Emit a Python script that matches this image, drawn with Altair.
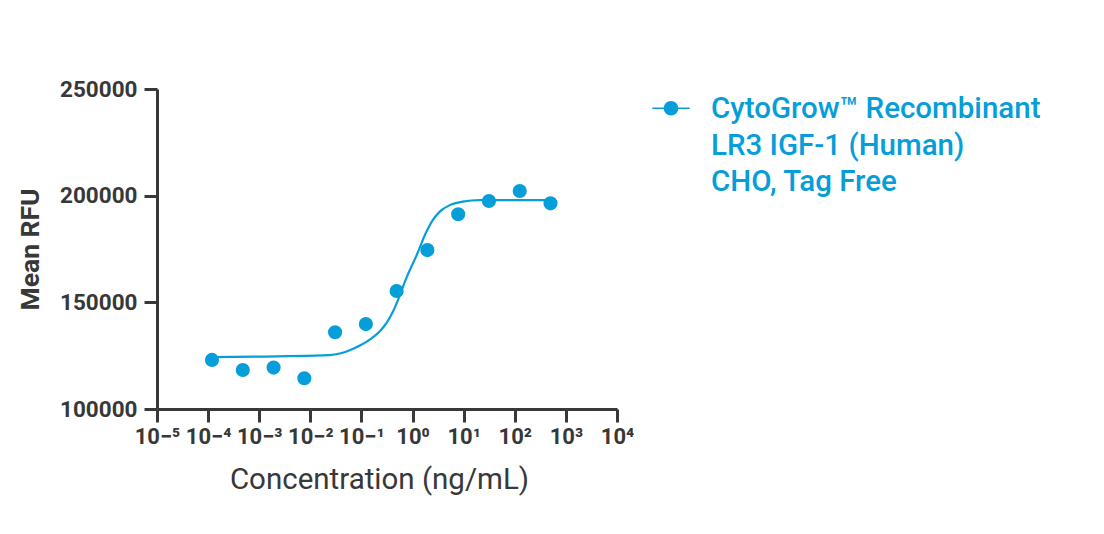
import altair as alt
import pandas as pd

BLUE = "#069ed9"
DARK = "#383838"

# Measured points (ng/mL, Mean RFU)
conc = [0.000119, 0.000477, 0.00191, 0.00763, 0.0305, 0.122, 0.488, 1.95, 7.81, 31.25, 125, 500]
rfu = [123000, 118300, 119400, 114400, 136000, 139800, 155300, 174500, 191300, 197500, 202200, 196400]

# Fitted curve
curve_conc = [0.000119, 0.0241, 0.0378, 0.0593, 0.0931, 0.1459, 0.2291, 0.3097, 0.4169,
              0.5217, 0.762, 1.194, 1.875, 2.523, 3.412, 5.346, 9.594, 20.65, 500]
curve_rfu = [124360, 125300, 126000, 127550, 129750, 132560, 136450, 140380, 145820,
             151300, 161610, 171920, 183160, 188780, 192530, 195570, 197210, 197920, 197920]

x_ticks = [1e-5, 1e-4, 1e-3, 1e-2, 1e-1, 1, 10, 100, 1000, 10000]
y_ticks = [100000, 150000, 200000, 250000]
series = "CytoGrow"
legend_lines = ["CytoGrow™ Recombinant", "LR3 IGF-1 (Human)", "CHO, Tag Free"]

pts = pd.DataFrame({"conc": conc, "rfu": rfu, "series": series})
crv = pd.DataFrame({"conc": curve_conc, "rfu": curve_rfu})

sup = ("'10' + replace(replace(replace(replace(replace(replace(replace("
       "format(round(log(datum.value)/LN10),'d'),'-','⁻'),'0','⁰'),'1','¹'),"
       "'2','²'),'3','³'),'4','⁴'),'5','⁵')")

xscale = alt.Scale(type="log", domain=[1e-5, 1e4], nice=False)
yscale = alt.Scale(domain=[100000, 250000], nice=False, zero=False)

xaxis = alt.Axis(values=x_ticks, labelExpr=sup, title="Concentration (ng/mL)",
                 labelFont="Roboto, Noto Sans", labelFontSize=22, labelFontWeight="bold",
                 labelColor=DARK, labelPadding=4, tickSize=13, tickWidth=3, tickColor=DARK,
                 domainWidth=3, domainColor=DARK, grid=False,
                 titleFontSize=29.5, titleFontWeight="normal", titleColor=DARK,
                 titleX=222, titleY=56, titleBaseline="top", labelFlush=False)
yaxis = alt.Axis(values=y_ticks, format="d", title="Mean RFU",
                 labelFontSize=22.5, labelFontWeight="bold", labelColor=DARK,
                 labelPadding=7, tickSize=13, tickWidth=3, tickColor=DARK,
                 domainWidth=3, domainColor=DARK, grid=False,
                 titleFontSize=26.5, titleFontWeight="bold", titleColor=DARK,
                 titleX=-113, titleY=160)

line = alt.Chart(crv).mark_line(color=BLUE, strokeWidth=2.2, interpolate="monotone").encode(
    x=alt.X("conc:Q", scale=xscale, axis=xaxis),
    y=alt.Y("rfu:Q", scale=yscale, axis=yaxis),
)

sym = "M-1,-0.36L1,-0.36M-0.35,-0.36A0.35,0.35 0 1 1 0.35,-0.36A0.35,0.35 0 1 1 -0.35,-0.36Z"

points = alt.Chart(pts).mark_point(filled=True, size=200, opacity=1).encode(
    x=alt.X("conc:Q", scale=xscale, axis=xaxis),
    y=alt.Y("rfu:Q", scale=yscale, axis=yaxis),
    color=alt.Color("series:N", scale=alt.Scale(range=[BLUE]),
                    legend=alt.Legend(
                        title=legend_lines, titleOrient="right", titleAnchor="start",
                        titleBaseline="top", titleAlign="left",
                        titleFontSize=29.5, titleFontWeight=500, titleColor=BLUE,
                        titleLineHeight=36.7, titleLimit=500, titlePadding=18,
                        labelExpr="''", labelOffset=0, labelFontSize=1,
                        symbolType=sym, symbolSize=1399, symbolStrokeColor=BLUE,
                        symbolFillColor=BLUE, symbolStrokeWidth=1.6, symbolOpacity=1,
                        orient="none", legendX=494, legendY=6, padding=0)),
)

chart = alt.layer(line, points).properties(
    width=460, height=320,
    autosize=alt.AutoSizeParams(type="none"),
    padding={"left": 149, "top": 81, "right": 479, "bottom": 117},
).configure(font="Roboto").configure_view(stroke=None)

chart.save("out.html", embed_options={"renderer": "svg", "actions": False})
